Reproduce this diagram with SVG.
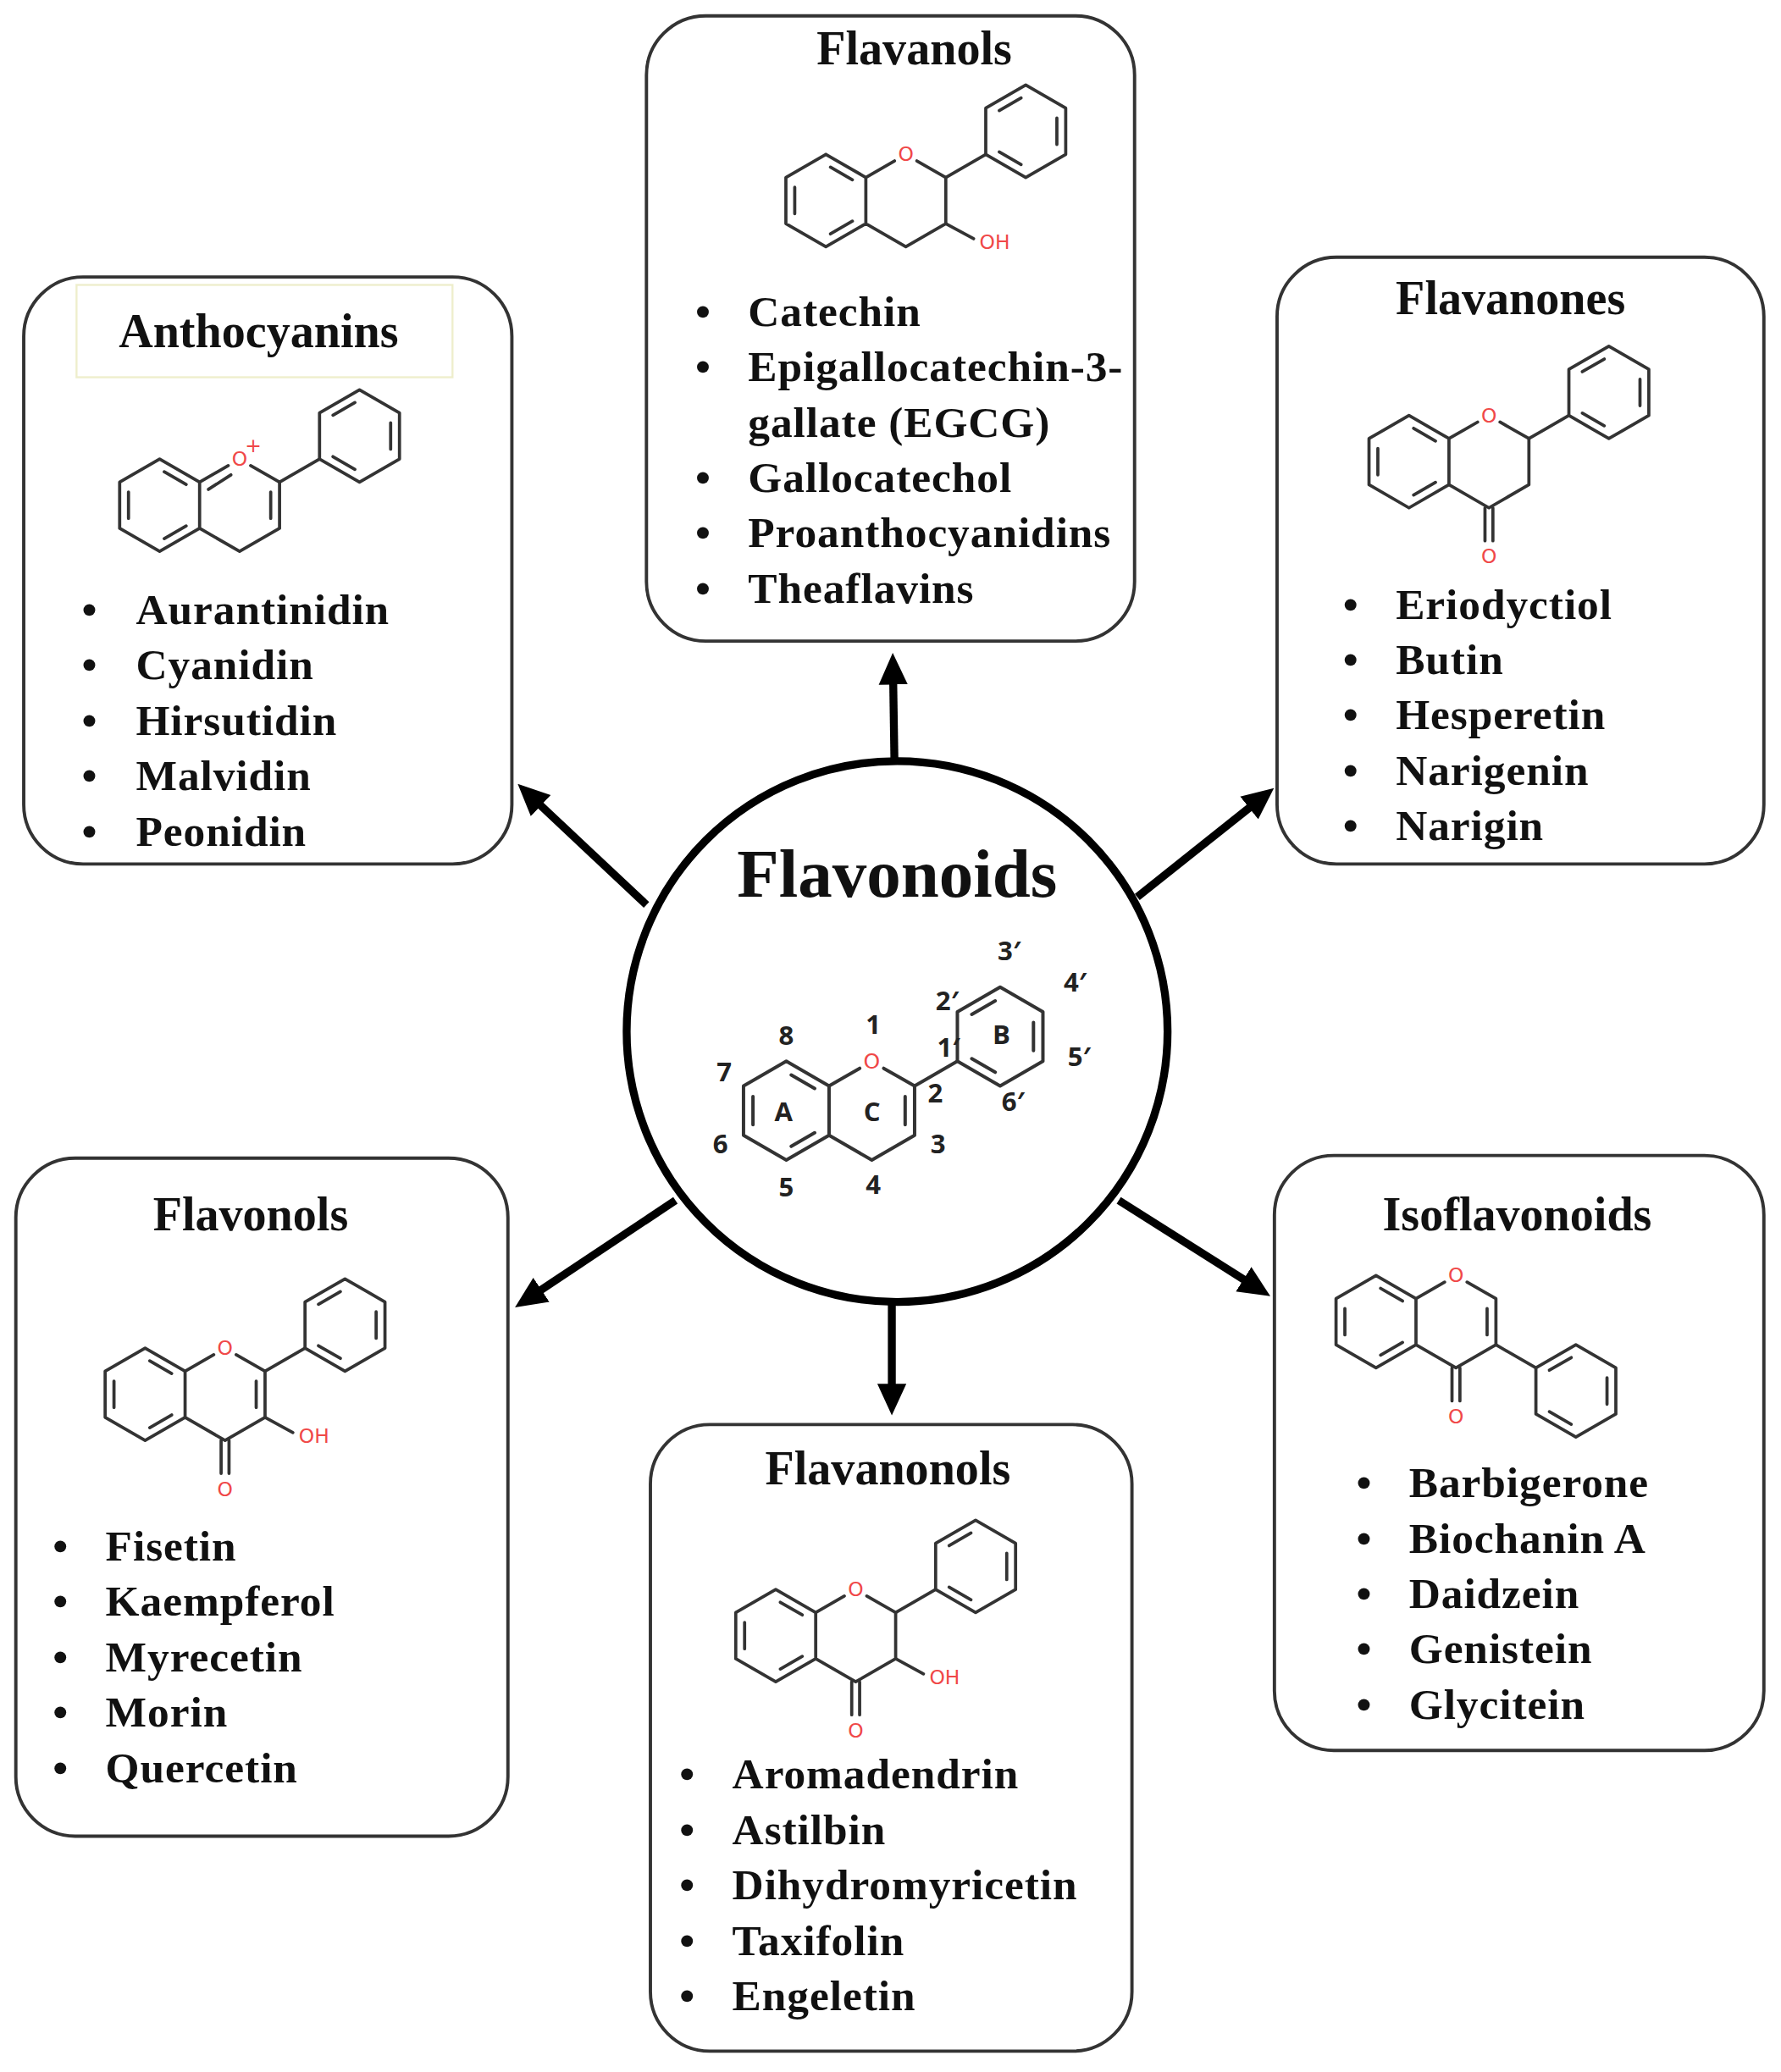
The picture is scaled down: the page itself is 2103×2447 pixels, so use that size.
<svg xmlns="http://www.w3.org/2000/svg" xmlns:xlink="http://www.w3.org/1999/xlink" width="2103" height="2447" viewBox="0 0 2103 2447">
<style>
.box{fill:#fff;stroke:#333;stroke-width:2.5}
.t{font-family:"Liberation Serif",serif;font-weight:bold;fill:#111}
.title{font-size:36px;text-anchor:middle}
.li{font-size:33px;letter-spacing:0.6px}
.b{fill:none;stroke:#333;stroke-width:2.4;stroke-linecap:round;stroke-linejoin:round}
.o{font-family:"DejaVu Sans",sans-serif;fill:#f04848;font-size:15px;text-anchor:middle}
.num{font-family:"Open Sans",sans-serif;fill:#222;font-size:20px;text-anchor:middle;font-weight:bold}
.arr{stroke:#000;stroke-width:6;fill:none}
</style>
<defs>
<marker id="ah" markerUnits="userSpaceOnUse" markerWidth="24" markerHeight="24" viewBox="0 0 24 24" refX="4" refY="12" orient="auto">
<path d="M0,1 L24,12 L0,23 z" fill="#000"/>
</marker>
<g id="core">
<path class="b" d="M0,-35 L30.3,-17.5 L30.3,17.5 L0,35 L-30.3,17.5 L-30.3,-17.5 Z M-23.6,-10 L-23.6,10 M3.5,-25.3 L20.1,-15.7 M20.1,15.7 L3.5,25.3 M30.3,-17.5 L52,-30 M69,-30 L90.9,-17.5 L90.9,17.5 L60.6,35 L30.3,17.5"/>
</g>
<g id="ph">
<path class="b" d="M0,-35 L30.3,-17.5 L30.3,17.5 L0,35 L-30.3,17.5 L-30.3,-17.5 Z M-20.1,-15.7 L-3.5,-25.3 M23.6,-10 L23.6,10 M-3.5,25.3 L-20.1,15.7"/>
</g>
<g id="co">
<path class="b" d="M57.6,35 L57.6,60 M63.6,35 L63.6,60"/>
<text class="o" x="60.6" y="77">O</text>
</g>
<g id="oh">
<path class="b" d="M90.9,17.5 L112,29"/>
<text class="o" x="128" y="37">OH</text>
</g>
</defs>
<g transform="scale(1.5578)">
<g id="connectors">
<line class="arr" x1="678" y1="578" x2="677" y2="515" marker-end="url(#ah)"/>
<line class="arr" x1="490" y1="686" x2="407" y2="608" marker-end="url(#ah)"/>
<line class="arr" x1="862" y1="680" x2="950" y2="610" marker-end="url(#ah)"/>
<line class="arr" x1="512" y1="910" x2="407" y2="980" marker-end="url(#ah)"/>
<line class="arr" x1="676" y1="988" x2="676" y2="1053" marker-end="url(#ah)"/>
<line class="arr" x1="848" y1="910" x2="946" y2="972" marker-end="url(#ah)"/>
</g>
<g id="center">
<circle cx="680" cy="782" r="205" fill="#fff" stroke="#000" stroke-width="6"/>
<text class="t" x="680" y="680" font-size="52" text-anchor="middle">Flavonoids</text>
<g transform="translate(596,842) scale(1.07)">
<use xlink:href="#core"/>
<path class="b" d="M84.2,-10 L84.2,10 M90.9,-17.5 L121.2,-35"/>
<use xlink:href="#ph" transform="translate(151.5,-52.5)"/>
<text class="o" x="60.6" y="-30">O</text>
</g>
<text class="num" x="594" y="842" font-size="26" dominant-baseline="central" font-weight="normal">A</text>
<text class="num" x="661" y="842" font-size="26" dominant-baseline="central" font-weight="normal">C</text>
<text class="num" x="759" y="784" font-size="26" dominant-baseline="central" font-weight="normal">B</text>
<text class="num" x="662" y="784">1</text>
<text class="num" x="596" y="792">8</text>
<text class="num" x="549" y="820">7</text>
<text class="num" x="546" y="874">6</text>
<text class="num" x="596" y="907">5</text>
<text class="num" x="662" y="905">4</text>
<text class="num" x="711" y="874">3</text>
<text class="num" x="709" y="836">2</text>
<text class="num" x="719" y="801">1′</text>
<text class="num" x="718" y="766">2′</text>
<text class="num" x="765" y="728">3′</text>
<text class="num" x="815" y="752">4′</text>
<text class="num" x="818" y="808">5′</text>
<text class="num" x="768" y="842">6′</text>
</g>
<g id="flavanols">
<rect class="box" x="490" y="12" width="370" height="474" rx="45"/>
<text class="t title" x="693" y="49">Flavanols</text>
<g transform="translate(626,152)">
<use xlink:href="#core"/>
<text class="o" x="60.6" y="-30">O</text>
<path class="b" d="M90.9,-17.5 L121.2,-35"/>
<use xlink:href="#ph" transform="translate(151.5,-52.5)"/>
<use xlink:href="#oh"/>
</g>
<g class="t li">
<text x="527" y="247">•</text><text x="567" y="247">Catechin</text>
<text x="527" y="289">•</text><text x="567" y="289">Epigallocatechin-3-</text>
<text x="567" y="331">gallate (EGCG)</text>
<text x="527" y="373">•</text><text x="567" y="373">Gallocatechol</text>
<text x="527" y="415">•</text><text x="567" y="415">Proanthocyanidins</text>
<text x="527" y="457">•</text><text x="567" y="457">Theaflavins</text>
</g>
</g>
<g id="anthocyanins">
<rect class="box" x="18" y="210" width="370" height="445" rx="45"/>
<rect x="58" y="216" width="285" height="70" fill="none" stroke="#eeeecc" stroke-width="1.5"/>
<text class="t title" x="196" y="263">Anthocyanins</text>
<g transform="translate(121,383)">
<use xlink:href="#core"/>
<text class="o" x="60.6" y="-30">O</text>
<text class="o" x="71" y="-40" font-size="10">+</text>
<path class="b" d="M84.2,-10 L84.2,10 M37,-12 L54,-23 M90.9,-17.5 L121.2,-35"/>
<use xlink:href="#ph" transform="translate(151.5,-52.5)"/>
</g>
<g class="t li">
<text x="62" y="473">•</text><text x="103" y="473">Aurantinidin</text>
<text x="62" y="515">•</text><text x="103" y="515">Cyanidin</text>
<text x="62" y="557">•</text><text x="103" y="557">Hirsutidin</text>
<text x="62" y="599">•</text><text x="103" y="599">Malvidin</text>
<text x="62" y="641">•</text><text x="103" y="641">Peonidin</text>
</g>
</g>
<g id="flavanones">
<rect class="box" x="968" y="195" width="369" height="460" rx="45"/>
<text class="t title" x="1145" y="238">Flavanones</text>
<g transform="translate(1068,350)">
<use xlink:href="#core"/>
<text class="o" x="60.6" y="-30">O</text>
<path class="b" d="M90.9,-17.5 L121.2,-35"/>
<use xlink:href="#ph" transform="translate(151.5,-52.5)"/>
<use xlink:href="#co"/>
</g>
<g class="t li">
<text x="1018" y="469">•</text><text x="1058" y="469">Eriodyctiol</text>
<text x="1018" y="511">•</text><text x="1058" y="511">Butin</text>
<text x="1018" y="553">•</text><text x="1058" y="553">Hesperetin</text>
<text x="1018" y="595">•</text><text x="1058" y="595">Narigenin</text>
<text x="1018" y="637">•</text><text x="1058" y="637">Narigin</text>
</g>
</g>
<g id="flavonols">
<rect class="box" x="12" y="878" width="373" height="514" rx="45"/>
<text class="t title" x="190" y="933">Flavonols</text>
<g transform="translate(110,1057)">
<use xlink:href="#core"/>
<text class="o" x="60.6" y="-30">O</text>
<path class="b" d="M84.2,-10 L84.2,10 M90.9,-17.5 L121.2,-35"/>
<use xlink:href="#ph" transform="translate(151.5,-52.5)"/>
<use xlink:href="#co"/>
<use xlink:href="#oh"/>
</g>
<g class="t li">
<text x="40" y="1183">•</text><text x="80" y="1183">Fisetin</text>
<text x="40" y="1225">•</text><text x="80" y="1225">Kaempferol</text>
<text x="40" y="1267">•</text><text x="80" y="1267">Myrecetin</text>
<text x="40" y="1309">•</text><text x="80" y="1309">Morin</text>
<text x="40" y="1351">•</text><text x="80" y="1351">Quercetin</text>
</g>
</g>
<g id="flavanonols">
<rect class="box" x="493" y="1080" width="365" height="475" rx="45"/>
<text class="t title" x="673" y="1125">Flavanonols</text>
<g transform="translate(588,1240)">
<use xlink:href="#core"/>
<text class="o" x="60.6" y="-30">O</text>
<path class="b" d="M90.9,-17.5 L121.2,-35"/>
<use xlink:href="#ph" transform="translate(151.5,-52.5)"/>
<use xlink:href="#co"/>
<use xlink:href="#oh"/>
</g>
<g class="t li">
<text x="515" y="1356">•</text><text x="555" y="1356">Aromadendrin</text>
<text x="515" y="1398">•</text><text x="555" y="1398">Astilbin</text>
<text x="515" y="1440">•</text><text x="555" y="1440">Dihydromyricetin</text>
<text x="515" y="1482">•</text><text x="555" y="1482">Taxifolin</text>
<text x="515" y="1524">•</text><text x="555" y="1524">Engeletin</text>
</g>
</g>
<g id="isoflavonoids">
<rect class="box" x="966" y="876" width="371" height="451" rx="45"/>
<text class="t title" x="1150" y="933">Isoflavonoids</text>
<g transform="translate(1043,1002)">
<use xlink:href="#core"/>
<text class="o" x="60.6" y="-30">O</text>
<path class="b" d="M84.2,-10 L84.2,10 M90.9,17.5 L121.2,35"/>
<use xlink:href="#ph" transform="translate(151.5,52.5)"/>
<use xlink:href="#co"/>
</g>
<g class="t li">
<text x="1028" y="1135">•</text><text x="1068" y="1135">Barbigerone</text>
<text x="1028" y="1177">•</text><text x="1068" y="1177">Biochanin A</text>
<text x="1028" y="1219">•</text><text x="1068" y="1219">Daidzein</text>
<text x="1028" y="1261">•</text><text x="1068" y="1261">Genistein</text>
<text x="1028" y="1303">•</text><text x="1068" y="1303">Glycitein</text>
</g>
</g>
</g>
</svg>
